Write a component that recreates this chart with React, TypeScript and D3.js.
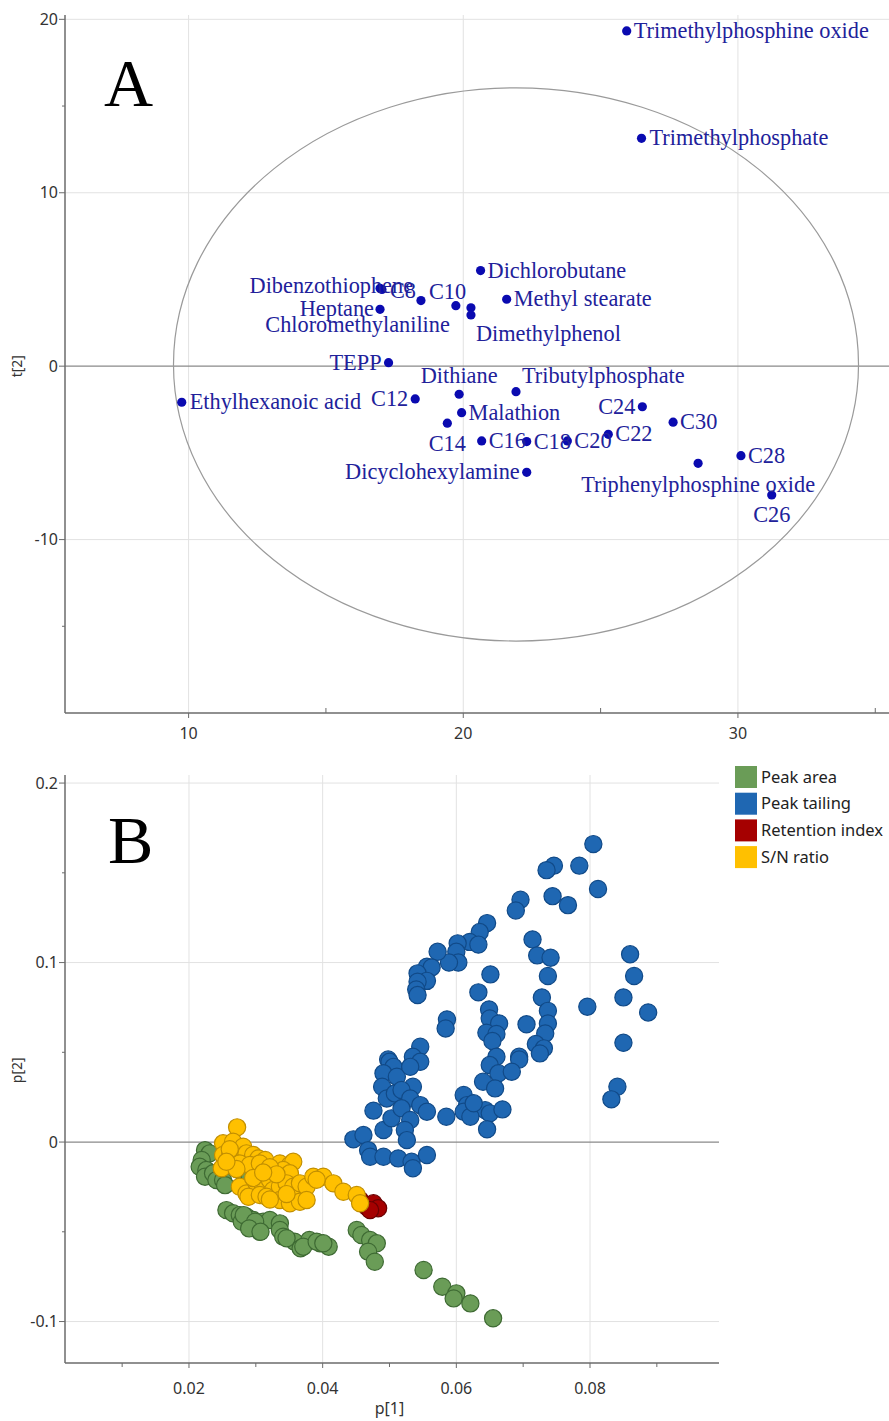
import React from "react";
import * as d3 from "d3";

// ---------- Panel A data (score plot t[1] vs t[2]) ----------
const compoundNames = [
  "Trimethylphosphine oxide", "Trimethylphosphate", "Dichlorobutane", "Methyl stearate",
  "Dibenzothiophene", "C8", "C10", "Heptane", "Chloromethylaniline", "",
  "Dimethylphenol", "TEPP", "Dithiane", "Tributylphosphate", "Ethylhexanoic acid",
  "C12", "Malathion", "C14", "C16", "C18", "C20", "C22", "C24", "C30", "C28",
  "Triphenylphosphine oxide", "C26", "Dicyclohexylamine",
];
const t1Values = [
  25.95, 26.49, 20.63, 21.58, 16.97, 17.04, 18.46, 16.97, 19.73, 20.28,
  20.28, 17.28, 19.85, 21.92, 9.75, 18.25, 19.94, 19.42, 20.67, 22.31,
  23.79, 25.28, 26.52, 27.64, 30.11, 28.55, 31.23, 22.31,
];
const t2Values = [
  19.33, 13.14, 5.51, 3.86, 4.49, 4.42, 3.78, 3.28, 3.49, 3.37,
  2.95, 0.2, -1.62, -1.47, -2.08, -1.89, -2.68, -3.29, -4.31, -4.35,
  -4.31, -3.93, -2.34, -3.23, -5.16, -5.6, -7.43, -6.12,
];
// label placement: [anchor, dx, dy]
const labelPlacement: [string, number, number][] = [
  ["start", 7, 7], ["start", 8, 7], ["start", 7, 7], ["start", 7, 7],
  ["end", 33, 5], ["start", 8, 8], ["start", 8, -2], ["end", -6, 7], ["end", -6, 26], ["start", 0, 0],
  ["start", 5, 26], ["end", -7, 7], ["middle", 0, -11], ["start", 6, -9], ["start", 8, 7],
  ["end", -7, 7], ["start", 7, 7], ["middle", 0, 28], ["start", 7, 7], ["start", 7, 7],
  ["start", 7, 7], ["start", 7, 7], ["end", -7, 7], ["start", 7, 7], ["start", 7, 7],
  ["middle", 0, 29], ["middle", 0, 27], ["end", -7, 7],
];
const ellipseCenter = [21.92, 0.1];
const ellipseRadii = [12.47, 15.95];
const aXTicks = [10, 20, 30];
const aXMinor = [15, 25, 35];
const aYTicks = [20, 10, 0, -10];
const aYMinor = [15, -15];

// ---------- Panel B data (loading plot p[1] vs p[2]) ----------
const seriesNames = ["Peak area", "Peak tailing", "Retention index", "S/N ratio"];
const seriesColors = ["#6a9c57", "#1f67b2", "#a50000", "#ffc000"];
const seriesStrokes = ["#3e6a33", "#114a88", "#6a0000", "#c28f00"];

const peakArea: [number, number][] = [
  [0.0224, -0.0045], [0.0231, -0.0063], [0.0219, -0.01], [0.0216, -0.0138], [0.0226, -0.0156],
  [0.0224, -0.0193], [0.0236, -0.0174], [0.0241, -0.0212], [0.0251, -0.0212], [0.0254, -0.024],
  [0.0281, -0.0174], [0.0291, -0.02], [0.0314, -0.0212],
  [0.0256, -0.0379], [0.0266, -0.0397], [0.0276, -0.0407], [0.0286, -0.0416], [0.0296, -0.0434],
  [0.0311, -0.0444], [0.0321, -0.0434], [0.0336, -0.0453], [0.0279, -0.0444], [0.0294, -0.0453],
  [0.0306, -0.05], [0.0336, -0.049], [0.0282, -0.0407], [0.0299, -0.0444], [0.029, -0.0481],
  [0.0307, -0.05], [0.0341, -0.0527], [0.0358, -0.0555], [0.038, -0.0546], [0.0396, -0.0564],
  [0.0409, -0.0583], [0.0367, -0.0592], [0.0346, -0.0536], [0.0371, -0.0583], [0.0391, -0.0555],
  [0.0401, -0.0564], [0.0451, -0.049], [0.0458, -0.0518], [0.0471, -0.0546], [0.0481, -0.0564],
  [0.0468, -0.0611], [0.0478, -0.0667], [0.0551, -0.0713], [0.0579, -0.0806], [0.06, -0.0843],
  [0.0596, -0.0871], [0.0621, -0.0899], [0.0655, -0.0982],
];
const peakTailing: [number, number][] = [
  [0.0805, 0.166], [0.0746, 0.154], [0.0735, 0.1515], [0.0784, 0.154], [0.0812, 0.141],
  [0.0744, 0.137], [0.0767, 0.132], [0.0696, 0.135], [0.0689, 0.129], [0.0646, 0.122],
  [0.0635, 0.117], [0.062, 0.1115], [0.0633, 0.11], [0.0602, 0.1107], [0.06, 0.106],
  [0.0603, 0.1], [0.0589, 0.1], [0.0572, 0.106], [0.0556, 0.0977], [0.0563, 0.0973],
  [0.0542, 0.094], [0.0556, 0.0898], [0.0542, 0.0893], [0.054, 0.085], [0.0542, 0.0819],
  [0.0651, 0.0934], [0.0633, 0.0834], [0.0714, 0.1129], [0.0721, 0.104], [0.0741, 0.1027],
  [0.0737, 0.0925], [0.086, 0.1046], [0.0866, 0.0925], [0.085, 0.0806], [0.0887, 0.0722],
  [0.0796, 0.0754], [0.085, 0.0553], [0.0728, 0.0806], [0.0737, 0.0731], [0.0737, 0.0661],
  [0.0733, 0.0605], [0.0719, 0.0546], [0.0731, 0.0522], [0.0725, 0.0494], [0.0705, 0.0656],
  [0.0649, 0.0739], [0.065, 0.0689], [0.0664, 0.0661], [0.0645, 0.0609], [0.066, 0.0602],
  [0.0654, 0.0563], [0.0586, 0.0683], [0.0584, 0.0633], [0.0546, 0.0531], [0.0498, 0.046],
  [0.0535, 0.0475], [0.066, 0.0475], [0.0694, 0.0475], [0.0841, 0.0308], [0.0832, 0.0238],
  [0.0694, 0.046], [0.065, 0.0429], [0.0663, 0.0383], [0.0683, 0.0392], [0.064, 0.0336],
  [0.0658, 0.0299], [0.0643, 0.0178], [0.065, 0.016], [0.0669, 0.0182], [0.0646, 0.0071],
  [0.0546, 0.0447], [0.05, 0.0447], [0.0506, 0.0419], [0.0491, 0.0383], [0.0511, 0.0364],
  [0.0531, 0.0419], [0.0535, 0.0308], [0.0489, 0.0308], [0.0496, 0.0243], [0.0508, 0.0271],
  [0.0518, 0.029], [0.0531, 0.0243], [0.0546, 0.0206], [0.0556, 0.0169], [0.0476, 0.0175],
  [0.0491, 0.0067], [0.0503, 0.0132], [0.0518, 0.0188], [0.0531, 0.0123], [0.0523, 0.0067],
  [0.0526, 0.0011], [0.0446, 0.0015], [0.0461, 0.0039], [0.0468, -0.0045], [0.0471, -0.0082],
  [0.0491, -0.0082], [0.0513, -0.0091], [0.0533, -0.011], [0.0535, -0.0146], [0.0556, -0.0072],
  [0.0585, 0.0141], [0.0611, 0.0262], [0.0616, 0.0206], [0.0611, 0.0169], [0.0621, 0.0141],
  [0.0626, 0.0216],
];
const retentionIndex: [number, number][] = [
  [0.0456, -0.0323], [0.0466, -0.036], [0.0476, -0.0341], [0.0483, -0.0369], [0.0471, -0.0379],
];
const snRatio: [number, number][] = [
  [0.0272, 0.0082], [0.0251, -0.0007], [0.0266, 0.0002], [0.0251, -0.0072], [0.0261, -0.0082],
  [0.0249, -0.0146], [0.0281, -0.0026], [0.0286, -0.0063], [0.0296, -0.0072], [0.0304, -0.0091],
  [0.0314, -0.01], [0.0276, -0.0119], [0.0291, -0.0128], [0.0306, -0.0119], [0.0336, -0.0119],
  [0.0351, -0.0128], [0.0356, -0.011], [0.0341, -0.0156], [0.0351, -0.0174], [0.0276, -0.0249],
  [0.0286, -0.0286], [0.0301, -0.023], [0.0311, -0.0249], [0.0321, -0.0212], [0.0326, -0.0267],
  [0.0336, -0.0249], [0.0346, -0.023], [0.0356, -0.0249], [0.0366, -0.023], [0.0376, -0.0249],
  [0.0386, -0.0193], [0.0401, -0.0193], [0.0416, -0.023], [0.0431, -0.0277], [0.0451, -0.0295],
  [0.0456, -0.0341], [0.0289, -0.0305], [0.0306, -0.0295], [0.0316, -0.0305], [0.0336, -0.0323],
  [0.0351, -0.0341], [0.0366, -0.0333], [0.0376, -0.0323], [0.0261, -0.004], [0.0271, -0.015],
  [0.0321, -0.014], [0.0331, -0.018], [0.0296, -0.02], [0.0311, -0.017], [0.0391, -0.021],
  [0.0346, -0.029], [0.0321, -0.032], [0.0256, -0.011],
];
const bXTicks = [0.02, 0.04, 0.06, 0.08];
const bXMinor = [0.01, 0.03, 0.05, 0.07, 0.09];
const bYTicks = [0.2, 0.1, 0, -0.1];
const bYMinor = [0.15, 0.05, -0.05];

const SANS = "'Noto Sans', 'Open Sans', sans-serif";
const SERIF = "'Liberation Serif', 'Times New Roman', serif";

export default function App() {
  const W = 889, H = 1421;
  // Panel A scales
  const ax = d3.scaleLinear().domain([5.5, 35.5]).range([65, 889]);
  const ay = d3.scaleLinear().domain([-20, 20.25]).range([713, 15]);
  // Panel B scales
  const bx = d3.scaleLinear().domain([0.00145, 0.0993]).range([65, 719]);
  const by = d3.scaleLinear().domain([-0.1231, 0.2045]).range([1363, 775]);

  const gridColor = "#e2e2e2";
  const axisColor = "#6b6b6b";
  const zeroColor = "#8a8a8a";
  const tickText = "#333";

  const aLeft = ax.range()[0], aRight = ax.range()[1];
  const aTop = ay.range()[1], aBottom = ay.range()[0];
  const bLeft = bx.range()[0], bRight = bx.range()[1];
  const bTop = by.range()[1], bBottom = by.range()[0];

  const seriesData = [peakArea, peakTailing, retentionIndex, snRatio];

  return (
    <svg width={W} height={H} style={{ position: "absolute", left: 0, top: 0, background: "#fff" }}>
      <defs>
        <clipPath id="clipA">
          <rect x={0} y={0} width={W} height={752} />
        </clipPath>
      </defs>
      {/* ===== Panel A ===== */}
      <g clipPath="url(#clipA)">
        {aXTicks.map((t) => (
          <line key={"agx" + t} x1={ax(t)} x2={ax(t)} y1={aTop} y2={aBottom} stroke={gridColor} strokeWidth={1} />
        ))}
        {aYTicks.filter((t) => t !== 0).map((t) => (
          <line key={"agy" + t} x1={aLeft} x2={aRight} y1={ay(t)} y2={ay(t)} stroke={gridColor} strokeWidth={1} />
        ))}
        <line x1={aLeft} x2={aRight} y1={ay(0)} y2={ay(0)} stroke={zeroColor} strokeWidth={1.3} />
        <ellipse
          cx={ax(ellipseCenter[0])}
          cy={ay(ellipseCenter[1])}
          rx={ax(ellipseCenter[0] + ellipseRadii[0]) - ax(ellipseCenter[0])}
          ry={ay(ellipseCenter[1]) - ay(ellipseCenter[1] + ellipseRadii[1])}
          fill="none"
          stroke="#9a9a9a"
          strokeWidth={1.2}
        />
        {/* axes */}
        <line x1={aLeft} x2={aLeft} y1={aTop} y2={aBottom} stroke={axisColor} strokeWidth={1.5} />
        <line x1={aLeft} x2={aRight} y1={aBottom} y2={aBottom} stroke={axisColor} strokeWidth={1.5} />
        {aYTicks.map((t) => (
          <g key={"ayt" + t}>
            <line x1={aLeft - 6} x2={aLeft} y1={ay(t)} y2={ay(t)} stroke={axisColor} strokeWidth={1} />
            <text x={aLeft - 7} y={ay(t)} dy="0.35em" textAnchor="end" fontFamily={SANS} fontSize={16} fill={tickText}>
              {t}
            </text>
          </g>
        ))}
        {aYMinor.map((t) => (
          <line key={"aym" + t} x1={aLeft - 3} x2={aLeft} y1={ay(t)} y2={ay(t)} stroke={axisColor} strokeWidth={1} />
        ))}
        {aXTicks.map((t) => (
          <g key={"axt" + t}>
            <line x1={ax(t)} x2={ax(t)} y1={aBottom} y2={aBottom + 5} stroke={axisColor} strokeWidth={1} />
            <text x={ax(t)} y={aBottom + 26} textAnchor="middle" fontFamily={SANS} fontSize={16} fill={tickText}>
              {t}
            </text>
          </g>
        ))}
        {aXMinor.map((t) => (
          <line key={"axm" + t} x1={ax(t)} x2={ax(t)} y1={aBottom - 5} y2={aBottom} stroke={axisColor} strokeWidth={1} />
        ))}
        <text x={ax(20)} y={762} textAnchor="middle" fontFamily={SANS} fontSize={15} fill={tickText}>
          t[1]
        </text>
        <text
          transform={`translate(22, ${ay(0)}) rotate(-90)`}
          textAnchor="middle"
          fontFamily={SANS}
          fontSize={14}
          fill={tickText}
        >
          t[2]
        </text>
        {/* points */}
        {compoundNames.map((n, i) => (
          <circle key={"ap" + i} cx={ax(t1Values[i])} cy={ay(t2Values[i])} r={4.6} fill="#0a0ab0" />
        ))}
        {compoundNames.map((n, i) =>
          n ? (
            <text
              key={"al" + i}
              x={ax(t1Values[i]) + labelPlacement[i][1]}
              y={ay(t2Values[i]) + labelPlacement[i][2]}
              textAnchor={labelPlacement[i][0]}
              fontFamily={SERIF}
              fontSize={22.3}
              fill="#21219a"
            >
              {n}
            </text>
          ) : null
        )}
        <text x={104} y={106} fontFamily={SERIF} fontSize={68} fill="#000">
          A
        </text>
      </g>

      {/* ===== Panel B ===== */}
      <g>
        {bXTicks.map((t) => (
          <line key={"bgx" + t} x1={bx(t)} x2={bx(t)} y1={bTop} y2={bBottom} stroke={gridColor} strokeWidth={1} />
        ))}
        {bYTicks.filter((t) => t !== 0).map((t) => (
          <line key={"bgy" + t} x1={bLeft} x2={bRight} y1={by(t)} y2={by(t)} stroke={gridColor} strokeWidth={1} />
        ))}
        <line x1={bLeft} x2={bRight} y1={by(0)} y2={by(0)} stroke={zeroColor} strokeWidth={1.3} />
        <line x1={bLeft} x2={bLeft} y1={bTop} y2={bBottom} stroke={axisColor} strokeWidth={1.5} />
        <line x1={bLeft} x2={bRight} y1={bBottom} y2={bBottom} stroke={axisColor} strokeWidth={1.5} />
        {bYTicks.map((t) => (
          <g key={"byt" + t}>
            <line x1={bLeft - 6} x2={bLeft} y1={by(t)} y2={by(t)} stroke={axisColor} strokeWidth={1} />
            <text x={bLeft - 7} y={by(t)} dy="0.35em" textAnchor="end" fontFamily={SANS} fontSize={16} fill={tickText}>
              {t}
            </text>
          </g>
        ))}
        {bYMinor.map((t) => (
          <line key={"bym" + t} x1={bLeft - 3} x2={bLeft} y1={by(t)} y2={by(t)} stroke={axisColor} strokeWidth={1} />
        ))}
        {bXTicks.map((t) => (
          <g key={"bxt" + t}>
            <line x1={bx(t)} x2={bx(t)} y1={bBottom} y2={bBottom + 5} stroke={axisColor} strokeWidth={1} />
            <text x={bx(t)} y={bBottom + 31} textAnchor="middle" fontFamily={SANS} fontSize={16} fill={tickText}>
              {t}
            </text>
          </g>
        ))}
        {bXMinor.map((t) => (
          <line key={"bxm" + t} x1={bx(t)} x2={bx(t)} y1={bBottom} y2={bBottom + 4} stroke={axisColor} strokeWidth={1} />
        ))}
        <text x={bx(0.05)} y={1414} textAnchor="middle" fontFamily={SANS} fontSize={16} fill={tickText}>
          p[1]
        </text>
        <text
          transform={`translate(22, ${by(0.04)}) rotate(-90)`}
          textAnchor="middle"
          fontFamily={SANS}
          fontSize={14}
          fill={tickText}
        >
          p[2]
        </text>
        {[0, 1, 2, 3].map((si) => (
          <g key={"bs" + si}>
            {seriesData[si].map((d, i) => (
              <circle
                key={i}
                cx={bx(d[0])}
                cy={by(d[1])}
                r={8.6}
                fill={seriesColors[si]}
                stroke={seriesStrokes[si]}
                strokeWidth={1.2}
              />
            ))}
          </g>
        ))}
        <text x={108} y={863} fontFamily={SERIF} fontSize={68} fill="#000">
          B
        </text>
        {/* legend */}
        {seriesNames.map((n, i) => (
          <g key={"lg" + i}>
            <rect x={735} y={766 + i * 26.7} width={22} height={22} fill={seriesColors[i]} />
            <text x={761} y={777 + i * 26.7} dy="0.35em" fontFamily={SANS} fontSize={16.5} fill="#222">
              {n}
            </text>
          </g>
        ))}
      </g>
    </svg>
  );
}
